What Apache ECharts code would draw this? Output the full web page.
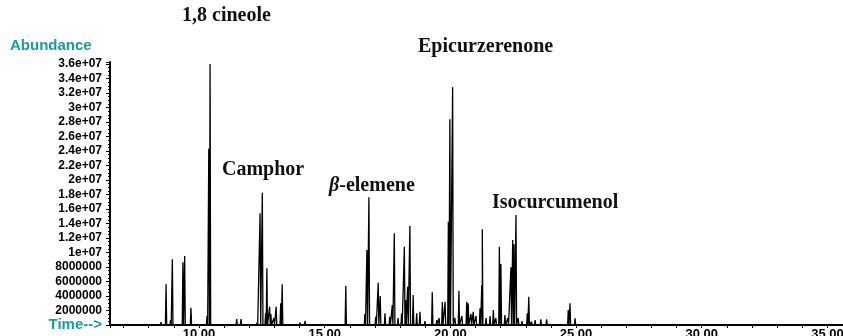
<!DOCTYPE html>
<html>
<head>
<meta charset="utf-8">
<script src="https://cdn.jsdelivr.net/npm/echarts@6/dist/echarts.min.js"></script>
<style>
html,body{margin:0;padding:0;background:#fff;}
#chart{width:843px;height:336px;}
</style>
</head>
<body>
<div id="chart"></div>
<script>
// Retention times (min) and abundances of the chromatogram peaks
const peakTimes = [
  8.49, 8.69, 8.87, 8.94, 9.36, 9.43, 9.68, 10.01, 10.13, 10.32, 10.39, 10.44, 10.68, 10.88,
  11.50, 11.67, 12.31, 12.43, 12.52, 12.65, 12.70, 12.81, 12.86, 12.98, 13.07, 13.25, 13.31,
  13.63, 14.02, 14.22, 15.10, 15.84, 16.60, 16.68, 16.76, 17.03, 17.13, 17.21, 17.40, 17.59,
  17.69, 17.77, 17.92, 18.06, 18.17, 18.22, 18.30, 18.39, 18.52, 18.66, 18.79, 18.99, 19.28,
  19.46, 19.55, 19.68, 19.79, 19.92, 19.98, 20.09, 20.18, 20.34, 20.46, 20.65, 20.71, 20.82,
  20.91, 21.02, 21.18, 21.25, 21.27, 21.42, 21.58, 21.71, 21.81, 21.95, 22.01, 22.17, 22.29,
  22.41, 22.48, 22.53, 22.61, 22.70, 22.85, 23.06, 23.12, 23.23, 23.37, 23.60, 23.83, 24.69,
  24.76, 24.96, 25.05
];
const peakHeights = [
  0.40e6, 5.61e6, 0.69e6, 9.06e6, 8.65e6, 9.52e6, 2.39e6, 0.23e6, 0.23e6, 1.24e6, 24.3e6, 36.0e6, 0.25e6, 0.20e6,
  0.83e6, 0.83e6, 0.32e6, 15.4e6, 18.25e6, 1.61e6, 7.82e6, 2.52e6, 1.52e6, 0.97e6, 2.52e6, 2.99e6, 5.61e6,
  0.14e6, 0.32e6, 0.59e6, 0.23e6, 5.38e6, 1.52e6, 10.34e6, 17.61e6, 1.14e6, 5.83e6, 4.00e6, 1.61e6, 1.14e6,
  2.76e6, 12.65e6, 0.97e6, 1.61e6, 10.8e6, 3.45e6, 5.28e6, 13.66e6, 4.14e6, 1.61e6, 1.83e6, 0.55e6, 4.51e6,
  0.69e6, 0.97e6, 3.17e6, 3.21e6, 14.25e6, 28.37e6, 32.79e6, 0.97e6, 4.73e6, 1.24e6, 3.21e6, 2.99e6, 1.52e6,
  1.83e6, 1.24e6, 2.30e6, 5.52e6, 13.2e6, 0.97e6, 1.24e6, 2.07e6, 0.97e6, 10.8e6, 8.41e6, 1.38e6, 0.97e6,
  7.96e6, 11.72e6, 11.13e6, 15.17e6, 0.97e6, 0.55e6, 1.61e6, 3.90e6, 0.46e6, 0.69e6, 0.79e6, 0.79e6, 2.07e6,
  2.99e6, 0.92e6, 0.23e6
];
const xTickLabels = { 10: '10.00', 15: '15.00', 20: '20.00', 25: '25.00', 30: '30.00', 35: '35.00' };
const yTickLabels = ['Time-->', '2000000', '4000000', '6000000', '8000000', '1e+07', '1.2e+07', '1.4e+07',
  '1.6e+07', '1.8e+07', '2e+07', '2.2e+07', '2.4e+07', '2.6e+07', '2.8e+07', '3e+07', '3.2e+07', '3.4e+07', '3.6e+07'];
const annotations = ['1,8 cineole', 'Camphor', 'β-elemene', 'Epicurzerenone', 'Isocurcumenol'];

// build the trace as narrow spikes from the peak list
const halfWidth = 0.025;
const trace = [[6.46, 0]];
for (let i = 0; i < peakTimes.length; i++) {
  trace.push([peakTimes[i] - halfWidth, 0]);
  trace.push([peakTimes[i], peakHeights[i]]);
  trace.push([peakTimes[i] + halfWidth, 0]);
}
trace.push([35.62, 0]);

const chart = echarts.init(document.getElementById('chart'));
const serif = '"Liberation Serif", "Times New Roman", serif';
const sans = '"Liberation Sans", Arial, sans-serif';
const teal = '#1a9a9a';
chart.setOption({
  animation: false,
  backgroundColor: '#fff',
  grid: { left: 110, right: 0, top: 62, bottom: 11, containLabel: false, outerBoundsMode: 'none' },
  xAxis: {
    type: 'value', min: 6.46, max: 35.62, splitNumber: 6,
    axisLine: { lineStyle: { color: '#000', width: 2 } },
    axisTick: { show: true, length: 3, lineStyle: { color: '#000' } },
    minorTick: { show: true, splitNumber: 5, length: 3, lineStyle: { color: '#000' } },
    splitLine: { show: false },
    axisLabel: {
      showMinLabel: false, showMaxLabel: false, margin: 3,
      fontSize: 13, fontWeight: 'bold', color: '#000', fontFamily: sans,
      formatter: v => xTickLabels[Math.round(v * 100) / 100] || ''
    }
  },
  yAxis: {
    type: 'value', min: 0, max: 3.628e7, interval: 2e6,
    axisLine: { show: true, lineStyle: { color: '#000', width: 2 } },
    axisTick: { show: true, length: 4, lineStyle: { color: '#000' } },
    minorTick: { show: true, splitNumber: 4, length: 2, lineStyle: { color: '#000' } },
    splitLine: { show: false },
    axisLabel: {
      showMaxLabel: false, margin: 8,
      fontSize: 12, fontWeight: 'bold', color: '#000', fontFamily: sans,
      formatter: v => {
        if (Math.abs(v / 2e6 - Math.round(v / 2e6)) > 1e-6) return '';
        const idx = Math.round(v / 2e6);
        if (idx === 0) return '{t|' + yTickLabels[0] + '}';
        return yTickLabels[idx] || '';
      },
      rich: { t: { color: teal, fontSize: 15, fontWeight: 'bold', fontFamily: sans } }
    }
  },
  series: [{
    type: 'line', data: trace, showSymbol: false, symbol: 'none',
    lineStyle: { color: '#000', width: 1.3 }, z: 3
  }],
  graphic: [
    { type: 'text', left: 10, top: 38, style: { text: 'Abundance', fill: teal, font: 'bold 15px ' + sans } },
    { type: 'text', left: 182, top: 6, style: { text: annotations[0], fill: '#111', font: 'bold 20px ' + serif } },
    { type: 'text', left: 222, top: 160, style: { text: annotations[1], fill: '#111', font: 'bold 20px ' + serif } },
    { type: 'text', left: 329, top: 176, style: {
        rich: {
          b: { fontStyle: 'italic', fontWeight: 'bold', fontSize: 20, fontFamily: serif, fill: '#111' },
          n: { fontWeight: 'bold', fontSize: 20, fontFamily: serif, fill: '#111' }
        },
        text: '{b|' + annotations[2].charAt(0) + '}{n|' + annotations[2].slice(1) + '}'
      } },
    { type: 'text', left: 418, top: 37, style: { text: annotations[3], fill: '#111', font: 'bold 20px ' + serif } },
    { type: 'text', left: 492, top: 193, style: { text: annotations[4], fill: '#111', font: 'bold 20px ' + serif } }
  ]
});
</script>
</body>
</html>
